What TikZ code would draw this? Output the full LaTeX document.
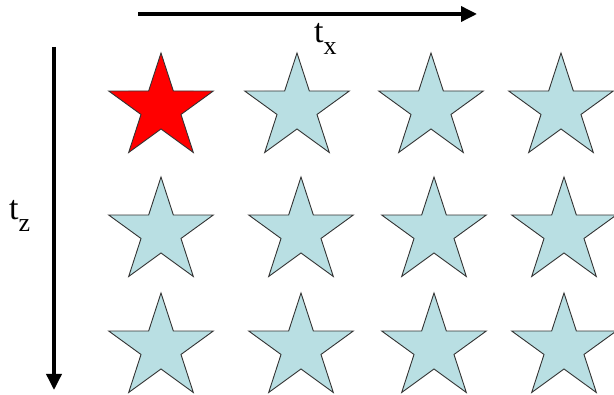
\documentclass[tikz,border=0pt]{standalone}
\usepackage{fontspec}
\setmainfont{Liberation Serif}
\usepackage{tikz}
\usetikzlibrary{arrows.meta,positioning,shapes.geometric}
\definecolor{paleblue}{HTML}{B9DFE3}
\definecolor{hotred}{HTML}{FF0000}
\newcommand{\subtxt}[1]{\raisebox{-12pt}{\fontsize{26}{26}\selectfont #1}}

\begin{document}
\begin{tikzpicture}[x=1pt,y=-1pt,every node/.style={inner sep=0pt},starbox/.style={star,star points=5,star point ratio=2.618,minimum size=110pt,draw=black!80,line width=0.9pt,fill=#1},axis/.style={-{Triangle[length=16pt,width=15pt]},line width=3.5pt},lbl/.style={font=\fontsize{34}{34}\selectfont,anchor=base west}]
\useasboundingbox (0,0) rectangle (614,395);
% axes
\coordinate (xstart) at (138,14);
\coordinate (xend) at (477,14);
\coordinate (zstart) at (54,47);
\coordinate (zend) at (54,390);
\draw[axis] (xstart)--(xend);
\draw[axis] (zstart)--(zend);
\node[lbl] (tx) at (314,43) {t\subtxt{x}};
\node[lbl] (tz) at (9,220) {t\subtxt{z}};
% star grid, first star red
\foreach \r/\y/\xa/\xb/\xc/\xd in {1/108/161/297/431/561,2/232/161/301/434/564,3/348/161/301/434/564}{
  \foreach \c/\x in {1/\xa,2/\xb,3/\xc,4/\xd}{
    \ifnum\r\c=11 \def\fillc{hotred}\else\def\fillc{paleblue}\fi
    \node[starbox=\fillc] (s\r\c) at (\x,\y) {};
  }
}
\end{tikzpicture}
\end{document}
